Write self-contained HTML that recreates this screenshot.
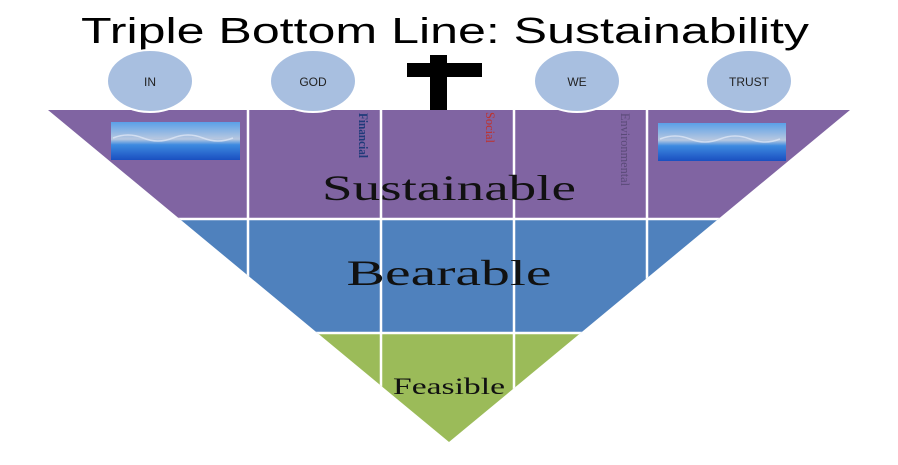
<!DOCTYPE html>
<html><head><meta charset="utf-8"><style>
html,body{margin:0;padding:0;background:#fff;}
svg{display:block;}
</style></head><body>
<svg width="898" height="465" viewBox="0 0 898 465" xmlns="http://www.w3.org/2000/svg">
<defs>
<clipPath id="tri"><polygon points="48,110 850,110 449,442"/></clipPath>
<linearGradient id="wg" x1="0" y1="0" x2="0" y2="1">
<stop offset="0" stop-color="#5aa0e8"/><stop offset="0.45" stop-color="#b8c8e0"/><stop offset="0.6" stop-color="#3d8ae0"/><stop offset="1" stop-color="#1a4fc0"/>
</linearGradient>
</defs>
<text x="445" y="43" font-family="Liberation Sans, sans-serif" font-size="36" text-anchor="middle" textLength="728" lengthAdjust="spacingAndGlyphs" fill="#000">Triple Bottom Line: Sustainability</text>
<g clip-path="url(#tri)">
<rect x="0" y="110" width="898" height="109" fill="#8064a2"/>
<rect x="0" y="219" width="898" height="114" fill="#4f81bd"/>
<rect x="0" y="333" width="898" height="120" fill="#9bbb59"/>
<g stroke="#fff" stroke-width="2.5">
<line x1="0" y1="219" x2="898" y2="219"/>
<line x1="0" y1="333" x2="898" y2="333"/>
<line x1="248" y1="110" x2="248" y2="460"/>
<line x1="381" y1="110" x2="381" y2="460"/>
<line x1="514" y1="110" x2="514" y2="460"/>
<line x1="647" y1="110" x2="647" y2="460"/>
</g>
</g>
<rect x="430" y="55" width="17" height="55" fill="#000"/>
<rect x="407" y="63" width="75" height="14" fill="#000"/>
<g fill="#a8bfe0" stroke="#fff" stroke-width="2">
<ellipse cx="150" cy="81" rx="43" ry="31"/>
<ellipse cx="313" cy="81" rx="43" ry="31"/>
<ellipse cx="577" cy="81" rx="43" ry="31"/>
<ellipse cx="749" cy="81" rx="43" ry="31"/>
</g>
<g font-family="Liberation Sans, sans-serif" font-size="12" text-anchor="middle" fill="#222">
<text x="150" y="86">IN</text><text x="313" y="86">GOD</text><text x="577" y="86">WE</text><text x="749" y="86">TRUST</text>
</g>
<rect x="111" y="122" width="129" height="38" fill="url(#wg)"/>
<rect x="658" y="123" width="128" height="38" fill="url(#wg)"/>
<g fill="none" stroke="#dde6f5" stroke-width="1.5" opacity="0.8">
<path d="M113 138 q15 -6 30 0 t30 0 t30 0 t30 0"/>
<path d="M660 139 q15 -6 30 0 t30 0 t30 0 t30 0"/>
</g>
<g font-family="Liberation Serif, serif">
<text transform="translate(359,113) rotate(90)" font-size="13" font-weight="bold" fill="#1f3a7a" textLength="45" lengthAdjust="spacingAndGlyphs">Financial</text>
<text transform="translate(486,112) rotate(90)" font-size="13" fill="#c0302a" textLength="31" lengthAdjust="spacingAndGlyphs">Social</text>
<text transform="translate(621,113) rotate(90)" font-size="13" fill="#5a4a78" textLength="73" lengthAdjust="spacingAndGlyphs">Environmental</text>
<text x="449" y="200" font-size="36" text-anchor="middle" fill="#111" textLength="254" lengthAdjust="spacingAndGlyphs">Sustainable</text>
<text x="449" y="285" font-size="36" text-anchor="middle" fill="#111" textLength="205" lengthAdjust="spacingAndGlyphs">Bearable</text>
<text x="449" y="394" font-size="23" text-anchor="middle" fill="#111" textLength="112" lengthAdjust="spacingAndGlyphs">Feasible</text>
</g>
</svg>
</body></html>
